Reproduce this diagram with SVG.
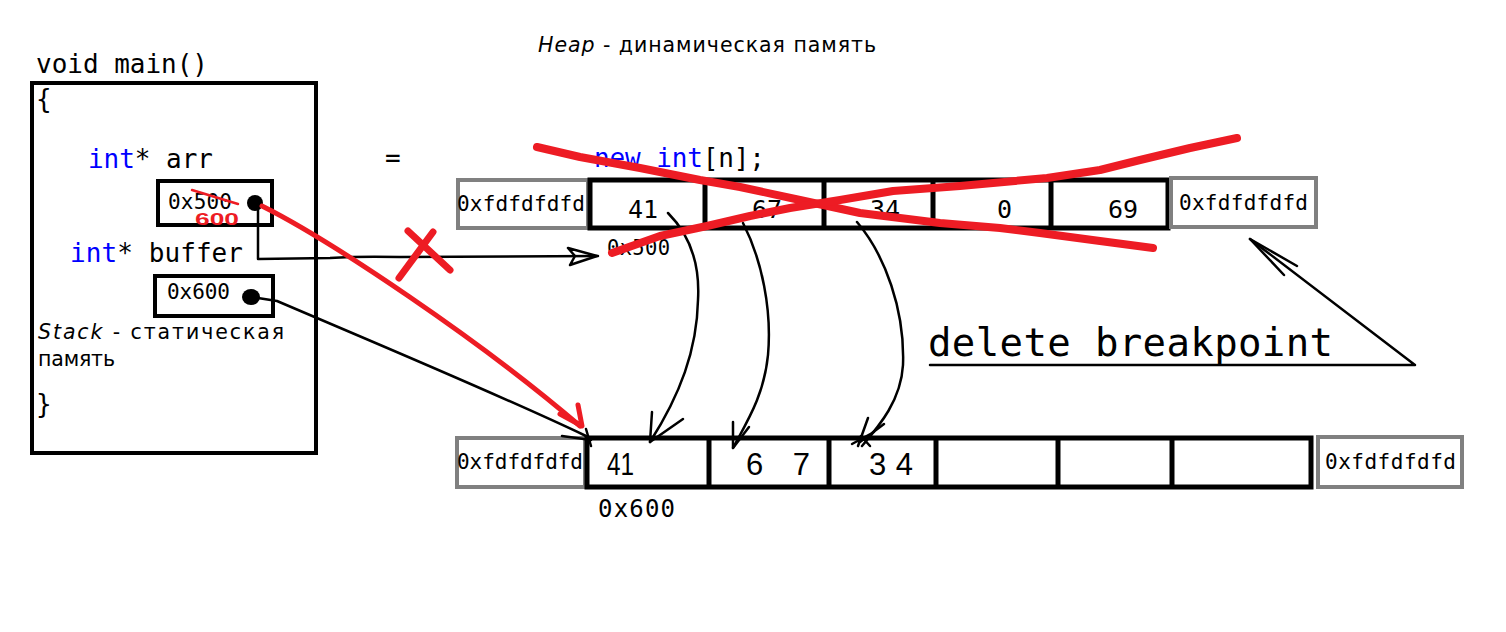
<svg xmlns="http://www.w3.org/2000/svg" width="1506" height="632" viewBox="0 0 1506 632">
<style>
.mono{font-family:"DejaVu Sans Mono","Liberation Mono",monospace;fill:#000}
.sans{font-family:"DejaVu Sans","Liberation Sans",sans-serif;fill:#000}
.hand{font-family:"Liberation Sans","DejaVu Sans",sans-serif;fill:#000}
.kw{fill:#0000FF}
.blk{fill:none;stroke:#000;stroke-width:5}
.gray{fill:#fff;stroke:#808080;stroke-width:4}
.con{fill:none;stroke:#000;stroke-width:2.5;stroke-linecap:round;stroke-linejoin:round}
.red{fill:none;stroke:#ED1C24;stroke-linecap:round;stroke-linejoin:round}
</style>
<rect width="1506" height="632" fill="#fff"/>

<g id="stack">
  <text class="mono" x="36" y="73" font-size="26" textLength="172">void main()</text>
  <rect x="32" y="83" width="284" height="370" fill="none" stroke="#000" stroke-width="4"/>
  <text class="mono" x="36" y="108" font-size="26">{</text>
  <text class="mono" x="88" y="168" font-size="26" textLength="125"><tspan class="kw">int</tspan>* arr</text>
  <text class="mono" x="70" y="262" font-size="26" textLength="173"><tspan class="kw">int</tspan>* buffer</text>
  <text class="sans" x="38" y="339" font-size="20.5" textLength="246"><tspan font-style="italic">Stack</tspan> - статическая</text>
  <text class="sans" x="38" y="366" font-size="20.5" textLength="77">память</text>
  <text class="mono" x="36" y="413" font-size="26">}</text>
</g>

<g id="arr-box">
  <rect x="158" y="181" width="114" height="44" fill="none" stroke="#000" stroke-width="4"/>
  <text class="mono" x="168" y="209" font-size="21" textLength="64">0x500</text>
  <circle cx="255" cy="203" r="8" fill="#000"/>
  <path class="red" stroke-width="2.5" d="M192,190 L238,204"/>
  <text x="195" y="225" font-family="Liberation Sans, sans-serif" font-size="16" font-weight="bold" fill="#ED1C24" textLength="44" lengthAdjust="spacingAndGlyphs">600</text>
</g>

<g id="buffer-box">
  <rect x="155" y="276" width="118" height="40" fill="none" stroke="#000" stroke-width="4"/>
  <text class="mono" x="167" y="299" font-size="21" textLength="63">0x600</text>
  <ellipse cx="251" cy="297" rx="9" ry="8" fill="#000"/>
</g>

<g id="heap-title">
  <text class="sans" x="538" y="52" font-size="20.5" textLength="338"><tspan font-style="italic">Heap</tspan> - динамическая память</text>
</g>

<g id="new-expr">
  <text class="mono" x="385" y="167" font-size="26">=</text>
  <text class="mono" x="594" y="167" font-size="26" textLength="171"><tspan class="kw">new int</tspan>[n];</text>
</g>

<g id="heap-array-top">
  <rect class="gray" x="458" y="180" width="130" height="48"/>
  <text class="mono" x="457" y="211" font-size="21" textLength="128">0xfdfdfdfd</text>
  <rect class="blk" x="590" y="180" width="578" height="48"/>
  <line class="blk" x1="705" y1="180" x2="705" y2="228"/>
  <line class="blk" x1="824" y1="180" x2="824" y2="228"/>
  <line class="blk" x1="933" y1="180" x2="933" y2="228"/>
  <line class="blk" x1="1051" y1="180" x2="1051" y2="228"/>
  <text class="mono" x="628" y="218" font-size="25">41</text>
  <text class="mono" x="752" y="218" font-size="25">67</text>
  <text class="mono" x="870" y="218" font-size="25">34</text>
  <text class="mono" x="997" y="218" font-size="25">0</text>
  <text class="mono" x="1108" y="218" font-size="25">69</text>
  <rect class="gray" x="1171" y="178" width="145" height="49"/>
  <text class="mono" x="1179" y="210" font-size="21" textLength="129">0xfdfdfdfd</text>
  <text class="mono" x="607" y="255" font-size="20.5" textLength="63">0x500</text>
</g>

<g id="heap-array-bottom">
  <rect class="gray" x="457" y="438" width="128" height="49"/>
  <text class="mono" x="457" y="469" font-size="21" textLength="126">0xfdfdfdfd</text>
  <rect class="blk" x="587" y="438" width="724" height="49"/>
  <line class="blk" x1="709" y1="438" x2="709" y2="487"/>
  <line class="blk" x1="829" y1="438" x2="829" y2="487"/>
  <line class="blk" x1="936" y1="438" x2="936" y2="487"/>
  <line class="blk" x1="1058" y1="438" x2="1058" y2="487"/>
  <line class="blk" x1="1172" y1="438" x2="1172" y2="487"/>
  <rect class="gray" x="1318" y="437" width="144" height="50"/>
  <text class="mono" x="1325" y="469" font-size="21" textLength="131">0xfdfdfdfd</text>
  <text class="hand" x="607" y="475" font-size="31" textLength="27" lengthAdjust="spacingAndGlyphs">41</text>
  <text class="hand" x="746" y="475" font-size="31" textLength="64">6 7</text>
  <text class="hand" x="869" y="475" font-size="31" textLength="44">34</text>
  <text class="mono" x="598" y="517" font-size="24" textLength="77">0x600</text>
</g>

<g id="note">
  <text class="mono" x="928" y="356" font-size="39" textLength="405">delete breakpoint</text>
</g>

<g id="connectors">
  <!-- arr -> 0x500 (old) -->
  <path class="con" d="M258,205 L258,259 L330,258 Q360,256 400,257 L598,256"/>
  <path class="con" d="M568,248 L597,256 L570,265 L575,256 Z"/>
  <!-- buffer -> bottom array -->
  <path class="con" d="M258,298 L277,301 C380,345 500,395 586,436"/>
  <path class="con" d="M562,436 L591,440 M586,429 L591,446"/>
  <!-- copy arrows -->
  <path class="con" d="M668,213 C690,235 700,265 698,300 C697,350 680,395 650,442"/>
  <path class="con" d="M652,412 L650,442 L683,419"/>
  <path class="con" d="M743,223 C762,260 772,310 768,355 C764,395 748,420 733,448"/>
  <path class="con" d="M733,422 L733,448 L749,427"/>
  <path class="con" d="M857,222 C885,255 905,310 903,365 C901,400 880,425 862,446"/>
  <path class="con" d="M868,418 L858,446 M884,424 L860,442 M874,432 L852,444 M861,436 L870,446"/>
  <!-- note arrow -->
  <path class="con" stroke-width="4" d="M930,365 L1415,365 L1250,239"/>
  <path class="con" stroke-width="4" d="M1250,239 L1297,266 M1250,239 L1284,275"/>
  <!-- red: arr -> bottom array -->
  <path class="red" stroke-width="5" d="M262,206 C330,240 480,340 580,426"/>
  <path class="red" stroke-width="5" d="M560,414 L582,426 L578,405"/>
  <!-- red X on old link -->
  <path class="red" stroke-width="7" d="M408,231 L450,270 M433,232 L399,278"/>
  <!-- red cross-out of top array -->
  <path class="red" stroke-width="8" d="M537,147 L580,157 L640,168 L700,180 L740,187 L800,200 L860,213 L940,223 L1000,228 L1040,233 L1100,241 L1153,248"/>
  <path class="red" stroke-width="8" d="M612,253 L660,236 L707,226 L750,216 L790,208 L840,200 L893,191 L960,186 L1047,178 L1100,170 L1140,160 L1190,148 L1237,138"/>
</g>
</svg>
